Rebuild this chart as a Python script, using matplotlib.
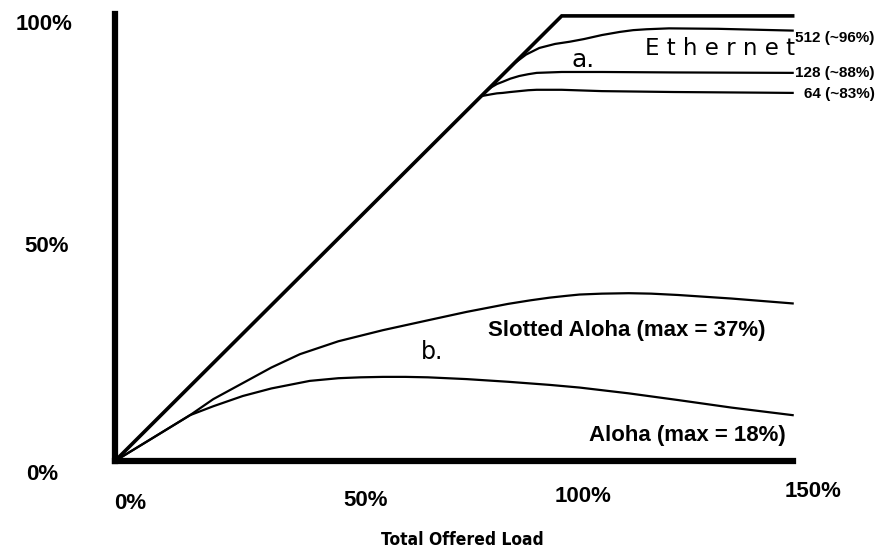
import numpy as np
import matplotlib
matplotlib.use("Agg")
import matplotlib.pyplot as plt
from matplotlib.transforms import ScaledTranslation

# Values (percent of capacity)
ideal_load = [0, 100, 151.7]
ideal_thru = [0, 100, 100]

eth512_load = [82.0, 86.0, 89.5, 92.0, 95.0, 98.5, 101.8, 105.0, 109.0, 113.0, 116.0, 119.0, 124.0, 135.0, 151.7]
eth512_thru = [82.0, 86.0, 89.4, 91.3, 92.8, 93.7, 94.2, 94.8, 95.7, 96.4, 96.8, 97.0, 97.2, 97.1, 96.7]

eth128_load = [82.1, 83.2, 84.3, 85.5, 86.8, 88.5, 90.5, 92.5, 94.4, 100.0, 109.0, 125.0, 151.7]
eth128_thru = [82.0, 83.1, 84.0, 84.7, 85.2, 85.9, 86.5, 86.9, 87.2, 87.4, 87.4, 87.3, 87.2]

eth64_load = [82.1, 83.2, 84.3, 85.5, 86.8, 88.5, 90.5, 92.5, 94.4, 100.0, 109.0, 125.0, 151.7]
eth64_thru = [82.0, 82.2, 82.4, 82.6, 82.7, 82.9, 83.1, 83.3, 83.4, 83.4, 83.1, 82.9, 82.7]

slotted_load = [0, 8, 16.8, 22, 28.6, 35, 41.4, 50, 60, 70, 78.7, 88, 93, 97.3, 101, 104, 109, 115, 120, 126, 138, 151.7]
slotted_thru = [0, 4.9, 10.3, 13.9, 17.5, 21.0, 24.0, 26.9, 29.4, 31.6, 33.5, 35.3, 36.1, 36.7, 37.1, 37.4, 37.6, 37.7, 37.6, 37.3, 36.5, 35.4]

aloha_load = [0, 8, 16.8, 22, 28.6, 35, 43.6, 50, 55, 60, 65, 70, 78.7, 88, 97.3, 104, 115, 126, 138, 151.7]
aloha_thru = [0, 4.9, 10.3, 12.3, 14.6, 16.3, 18.0, 18.6, 18.8, 18.9, 18.9, 18.8, 18.4, 17.8, 17.1, 16.5, 15.2, 13.7, 12.0, 10.3]

x_ticks = [0, 50, 100, 150]
x_tick_labels = ["0%", "50%", "100%", "150%"]
y_ticks = [0, 50, 100]
y_tick_labels = ["0%", "50%", "100%"]

eth_labels = ["512 (~96%)", "128 (~88%)", "64 (~83%)"]

plt.rcParams["font.family"] = ["Liberation Sans", "DejaVu Sans"]
narrow = dict(family=["DejaVu Sans"], stretch="condensed")

fig = plt.figure(figsize=(8.82, 5.53), dpi=100)
ax = fig.add_axes([115 / 882, 92 / 553, 679 / 882, 454 / 553])
ax.set_xlim(0, 152)
ax.set_ylim(0, 102)

# thick hand-drawn axes
for side in ("top", "right"):
    ax.spines[side].set_visible(False)
ax.spines["left"].set_linewidth(4.5)
ax.spines["bottom"].set_linewidth(4.5)
ax.spines["left"].set_bounds(0, 100.5)
ax.spines["bottom"].set_bounds(0, 151.7)

ax.plot(ideal_load, ideal_thru, color="black", lw=2.6, clip_on=False, solid_joinstyle="miter")
for xs, ys in [(eth512_load, eth512_thru), (eth128_load, eth128_thru), (eth64_load, eth64_thru),
               (slotted_load, slotted_thru), (aloha_load, aloha_thru)]:
    ax.plot(xs, ys, color="black", lw=1.6, clip_on=False, solid_joinstyle="round")

ax.set_xticks(x_ticks, x_tick_labels)
ax.set_yticks(y_ticks, y_tick_labels)
ax.tick_params(length=0, labelsize=16)
ax.tick_params(axis="y", pad=33)
ax.tick_params(axis="x", pad=23)
for lab in ax.get_xticklabels() + ax.get_yticklabels():
    lab.set_fontweight("bold")

# scan is slightly skewed: nudge tick labels like the original
x_shift = [(15, 0), (27, 3), (21, 7), (28, 12)]
for lab, (dx, dy) in zip(ax.get_xticklabels(), x_shift):
    lab.set_transform(lab.get_transform() + ScaledTranslation(dx / 100, dy / 100, fig.dpi_scale_trans))
y_shift = [(-11, -11), (0, -6), (3, -6)]
for lab, (dx, dy) in zip(ax.get_yticklabels(), y_shift):
    lab.set_transform(lab.get_transform() + ScaledTranslation(dx / 100, dy / 100, fig.dpi_scale_trans))

fig.text(462 / 882, 1 - 540 / 553, "Total Offered Load", fontsize=12.5, fontweight="bold",
         ha="center", va="center", **narrow)

# end labels for the ethernet curves
ends = [eth512_thru[-1], eth128_thru[-1], eth64_thru[-1]]
offs = [(2, -5), (2, 0), (8, -1)]
for txt, yv, (dx, dy) in zip(eth_labels, ends, offs):
    ax.annotate(txt, (eth512_load[-1], yv), xytext=(dx, dy), textcoords="offset points",
                fontsize=11, fontweight="bold", ha="left", va="center", annotation_clip=False)

ax.text(114.5, 29.4, "Slotted Aloha (max = 37%)", fontsize=16, fontweight="bold", ha="center", va="center")
ax.text(128.2, 5.8, "Aloha (max = 18%)", fontsize=16, fontweight="bold", ha="center", va="center")

# handwritten notes on the scan
ax.text(104.7, 90.2, "a.", fontsize=18, family=["DejaVu Sans"], ha="center", va="center")
ax.text(135.5, 92.6, "E t h e r n e t", fontsize=16.5, family=["DejaVu Sans"], ha="center", va="center")
ax.text(71, 24.5, "b.", fontsize=17, family=["DejaVu Sans"], ha="center", va="center")

fig.savefig("out.png", dpi=100)
